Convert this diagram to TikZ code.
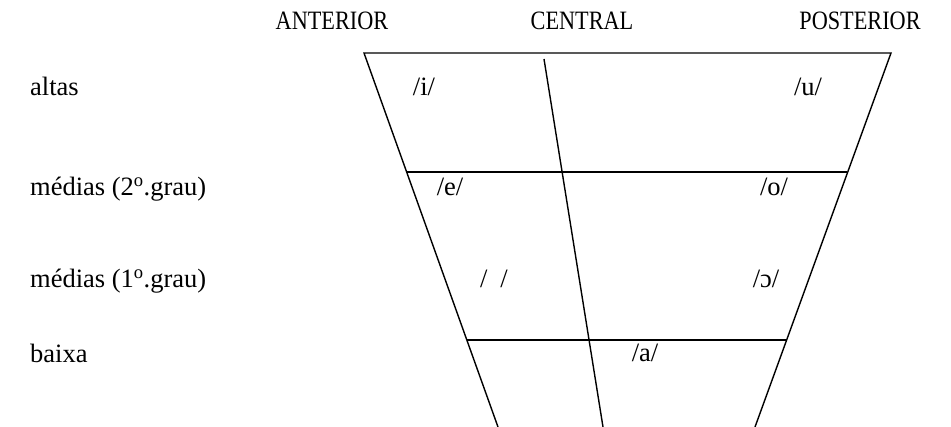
\documentclass[tikz,border=0pt]{standalone}
\usepackage{fontspec}
\usepackage{graphicx}
\setmainfont{Liberation Serif}
\begin{document}
\begin{tikzpicture}[x=1pt,y=-1pt,
  lbl/.style={inner sep=0pt,font=\fontsize{26.5}{30}\selectfont},
  ln/.style={line width=1.4pt}]
\useasboundingbox (0,0) rectangle (951,427);
% frame coordinates
\coordinate (tl) at (364,53);
\coordinate (tr) at (891,53);
\coordinate (bl) at (498,427);
\coordinate (br) at (755,427);
\coordinate (ct) at (544,59);
\coordinate (cb) at (603,427);
\coordinate (ml) at (407,172);
\coordinate (mr) at (847,172);
\coordinate (ll) at (467,340);
\coordinate (lr) at (786,340);
\draw[ln] (bl) -- (tl) -- (tr) -- (br);
\draw[ln] (ct) -- (cb);
\draw[ln] (ml) -- (mr);
\draw[ln] (ll) -- (lr);
% column headings
\node[lbl,anchor=base] (ant) at (332,30) {\scalebox{0.84}[1]{ANTERIOR}};
\node[lbl,anchor=base] (cen) at (582,30) {\scalebox{0.84}[1]{CENTRAL}};
\node[lbl,anchor=base] (pos) at (860,30) {\scalebox{0.84}[1]{POSTERIOR}};
% row labels
\node[lbl,anchor=base west] (alt) at (30,96) {altas};
\node[lbl,anchor=base west] (m2) at (30,196) {médias (2\textsuperscript{o}.grau)};
\node[lbl,anchor=base west] (m1) at (30,288) {médias (1\textsuperscript{o}.grau)};
\node[lbl,anchor=base west] (bx) at (30,363) {baixa};
% vowels
\node[lbl,anchor=base] (vi) at (424,96) {/i/};
\node[lbl,anchor=base] (vu) at (808,96) {/u/};
\node[lbl,anchor=base] (ve) at (450,196) {/e/};
\node[lbl,anchor=base] (vo) at (774,196) {/o/};
\node[lbl,anchor=base] (veh) at (494,288) {/\hspace{13pt}/};
\node[lbl,anchor=base] (voh) at (766,288) {/ɔ/};
\node[lbl,anchor=base] (va) at (645,362) {/a/};
\end{tikzpicture}
\end{document}
